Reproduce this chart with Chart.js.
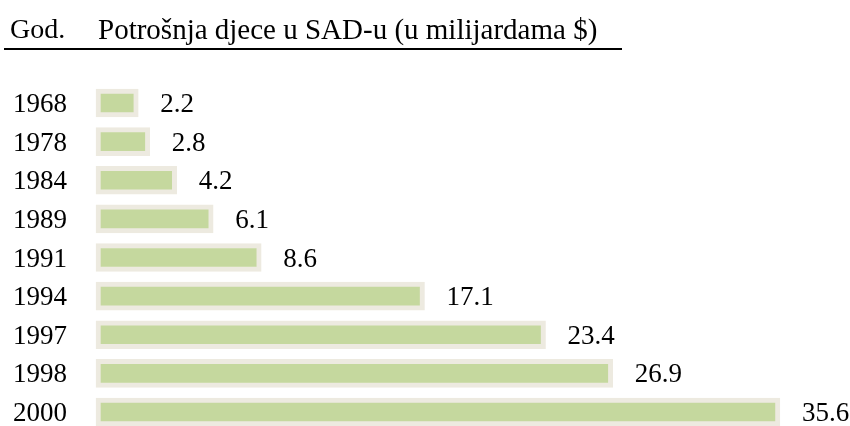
<!DOCTYPE html>
<html>
<head>
<meta charset="utf-8">
<script src="https://cdn.jsdelivr.net/npm/chart.js@4"></script>
<style>
  html, body { margin: 0; padding: 0; background: #ffffff; }
  #wrap { position: relative; width: 850px; height: 426px; }
  #hdr { position: absolute; left: 4px; top: 10px; width: 618px; height: 38px; border-bottom: 2px solid #000;
         font-family: "Liberation Serif", "Times New Roman", serif; font-size: 28px; color: #000; line-height: 38px; white-space: nowrap; }
  #hdr .c1 { position: absolute; left: 6px; top: 0; }
  #hdr .c2 { position: absolute; left: 94px; top: 0; font-size: 29px; }
  canvas { position: absolute; left: 0; top: 0; }
</style>
</head>
<body>
<div id="wrap">
  <canvas id="c" width="850" height="426"></canvas>
  <div id="hdr"><span class="c1">God.</span><span class="c2">Potrošnja djece u SAD-u (u milijardama $)</span></div>
</div>
<script>
const years = ["1968", "1978", "1984", "1989", "1991", "1994", "1997", "1998", "2000"];
const spending = [2.2, 2.8, 4.2, 6.1, 8.6, 17.1, 23.4, 26.9, 35.6];
const valueLabels = ["2.2", "2.8", "4.2", "6.1", "8.6", "17.1", "23.4", "26.9", "35.6"];

const FONT = '"Liberation Serif", "Times New Roman", serif';

const labelPlugin = {
  id: 'labels',
  afterDatasetsDraw(chart) {
    const ctx = chart.ctx;
    const meta = chart.getDatasetMeta(0);
    const yScale = chart.scales.y;
    ctx.save();
    ctx.font = '27px ' + FONT;
    ctx.fillStyle = '#000';
    ctx.textAlign = 'left';
    ctx.textBaseline = 'middle';
    yScale.ticks.forEach((t, i) => {
      const y = yScale.getPixelForTick(i);
      ctx.fillText(years[t.value], yScale.left, y + 2);
    });
    meta.data.forEach((bar, i) => {
      ctx.fillText(valueLabels[i], bar.x + 22, bar.y + 2);
    });
    ctx.restore();
  }
};

new Chart(document.getElementById('c'), {
  type: 'bar',
  data: {
    labels: years,
    datasets: [{
      data: spending,
      backgroundColor: '#C5D89E',
      borderColor: '#EDEAE0',
      borderWidth: 5,
      borderSkipped: false,
      barThickness: 28,
      clip: false
    }]
  },
  options: {
    indexAxis: 'y',
    responsive: false,
    animation: false,
    layout: { padding: { left: 13, right: 24, top: 103, bottom: 14 } },
    plugins: { legend: { display: false }, tooltip: { enabled: false } },
    scales: {
      x: { display: false, min: 0, max: 38 },
      y: {
        offset: false,
        grid: { display: false },
        border: { display: false },
        afterFit(scale) { scale.width = 83; },
        ticks: { display: false }
      }
    }
  },
  plugins: [labelPlugin]
});
</script>
</body>
</html>
